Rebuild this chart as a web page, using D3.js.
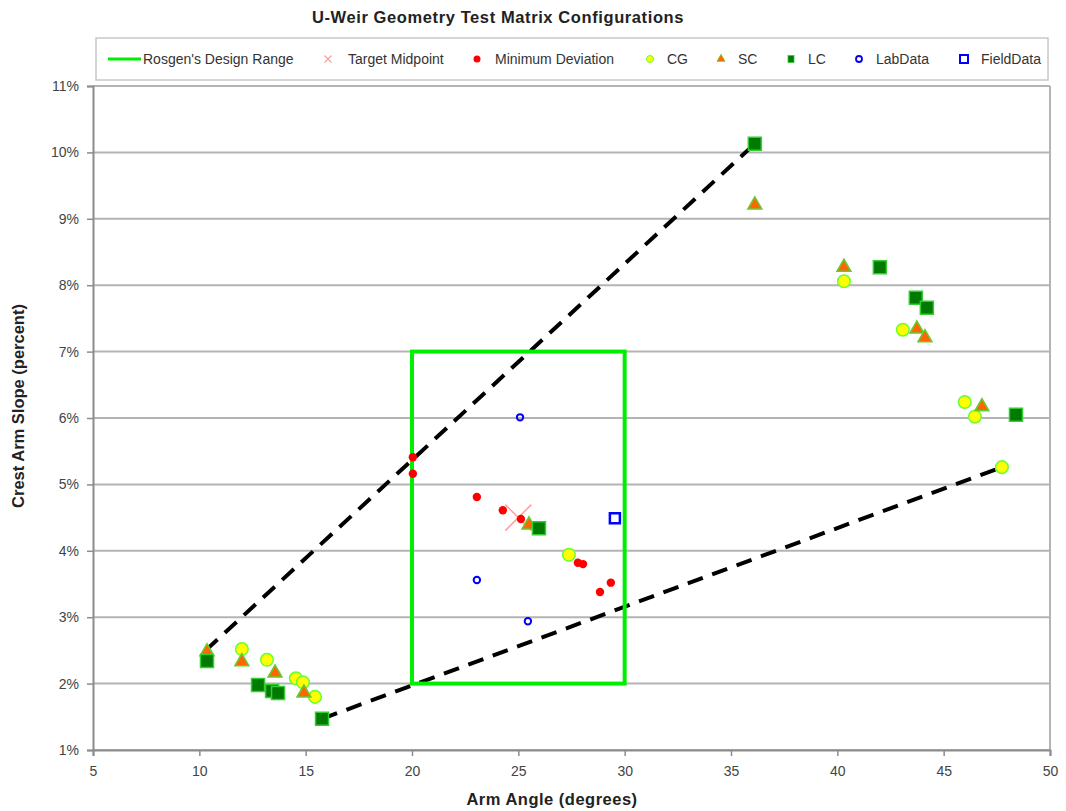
<!DOCTYPE html>
<html>
<head>
<meta charset="utf-8">
<script src="https://cdn.jsdelivr.net/npm/d3@7/dist/d3.min.js"></script>
<style>
  body { margin: 0; background: #fff; }
  text { font-family: "Liberation Sans", Arial, sans-serif; }
</style>
</head>
<body>
<svg id="chart" width="1066" height="811"></svg>
<script>
// ---- data (x = arm angle deg, y = crest arm slope %) ----
const rosgenX = [20, 30];
const rosgenY = [2, 7];
const targetMid = [[25, 4.5]];
const minDeviation = [[20.04, 5.41], [20.04, 5.16], [23.05, 4.81], [24.27, 4.61], [25.12, 4.48],
  [27.8, 3.82], [28.04, 3.80], [29.35, 3.52], [28.84, 3.38]];
const cgData = [[12.0, 2.52], [13.18, 2.36], [14.54, 2.08], [14.87, 2.02], [15.44, 1.80], [27.38, 3.94],
  [40.31, 8.06], [43.08, 7.33], [45.99, 6.24], [46.47, 6.02], [47.74, 5.26]];
const scData = [[10.36, 2.48], [12.0, 2.33], [13.56, 2.16], [14.92, 1.86], [25.5, 4.39], [36.12, 9.21],
  [40.31, 8.27], [43.74, 7.34], [44.12, 7.21], [46.8, 6.17]];
const lcData = [[10.36, 2.34], [12.76, 1.98], [13.42, 1.89], [13.7, 1.86], [15.77, 1.47], [25.97, 4.34],
  [36.12, 10.13], [42.0, 8.27], [43.69, 7.81], [44.21, 7.66], [48.4, 6.05]];
const labData = [[25.08, 6.01], [23.05, 3.56], [25.45, 2.94]];
const fieldData = [[29.54, 4.49]];
const upperBound = [[10.3, 2.5], [36.12, 10.13]];
const lowerBound = [[15.77, 1.47], [47.74, 5.26]];
const xTicks = [5, 10, 15, 20, 25, 30, 35, 40, 45, 50];
const yTicks = [1, 2, 3, 4, 5, 6, 7, 8, 9, 10, 11];
const legendNames = ["Rosgen's Design Range", "Target Midpoint", "Minimum Deviation", "CG", "SC", "LC", "LabData", "FieldData"];

const margin = {top: 86, right: 16, bottom: 61, left: 93},
  width = 1066 - margin.left - margin.right,
  height = 811 - margin.top - margin.bottom;

const svg = d3.select('#chart');
const g = svg.append('g').attr('transform', 'translate(' + margin.left + ',' + margin.top + ')');

let x = d3.scaleLinear().domain([5, 50]).range([0, width]);
let y = d3.scaleLinear().domain([1, 11]).range([height, 0]);

// title
svg.append('text')
  .attr('x', 498).attr('y', 23)
  .attr('text-anchor', 'middle')
  .style('font-size', '16.5px').style('font-weight', 'bold').style('fill', '#222')
  .style('letter-spacing', '0.6px')
  .text('U-Weir Geometry Test Matrix Configurations');

// gridlines
g.selectAll('.grid').data(yTicks).enter().append('line')
  .attr('class', 'grid')
  .attr('x1', 0).attr('x2', width)
  .attr('y1', d => y(d)).attr('y2', d => y(d))
  .style('stroke', '#b4b4b4').style('stroke-width', 2);

// plot border (right side)
g.append('line').attr('x1', width).attr('x2', width).attr('y1', 0).attr('y2', height)
  .style('stroke', '#b4b4b4').style('stroke-width', 2);

// axes
const yAxis = d3.axisLeft(y).tickValues(yTicks).tickSize(6).tickPadding(8).tickFormat(d => d + '%');
const xAxis = d3.axisBottom(x).tickValues(xTicks).tickSize(6).tickPadding(10).tickFormat(d3.format('d'));

const ya = g.append('g').call(yAxis);
const xa = g.append('g').attr('transform', 'translate(0,' + height + ')').call(xAxis);
[ya, xa].forEach(a => {
  a.select('.domain').style('stroke', '#8c8c8c').style('stroke-width', 2);
  a.selectAll('.tick line').style('stroke', '#8c8c8c').style('stroke-width', 1.5);
  a.selectAll('.tick text').style('font-size', '14px').style('fill', '#444')
    .style('font-family', '"Liberation Sans", Arial, sans-serif');
});

// axis titles
svg.append('text')
  .attr('transform', 'translate(24,' + 406 + ')rotate(-90)')
  .attr('text-anchor', 'middle')
  .style('font-size', '16.5px').style('font-weight', 'bold').style('fill', '#222')
  .text('Crest Arm Slope (percent)');
svg.append('text')
  .attr('x', 552).attr('y', 805)
  .attr('text-anchor', 'middle')
  .style('font-size', '16.5px').style('font-weight', 'bold').style('fill', '#222')
  .style('letter-spacing', '0.5px')
  .text('Arm Angle (degrees)');

// dashed bounding lines
const line = d3.line().x(d => x(d[0])).y(d => y(d[1]));
[upperBound, lowerBound].forEach(b => {
  g.append('path').datum(b).attr('d', line)
    .style('fill', 'none').style('stroke', '#000').style('stroke-width', 4)
    .style('stroke-dasharray', '16,10');
});

// Rosgen's design range
g.append('rect')
  .attr('x', x(rosgenX[0])).attr('y', y(rosgenY[1]))
  .attr('width', x(rosgenX[1]) - x(rosgenX[0]))
  .attr('height', y(rosgenY[0]) - y(rosgenY[1]))
  .style('fill', 'none').style('stroke', '#00ee00').style('stroke-width', 4);

// target midpoint
g.selectAll('.target').data(targetMid).enter().append('path')
  .attr('transform', d => 'translate(' + x(d[0]) + ',' + y(d[1]) + ')')
  .attr('d', 'M-13,-13L13,13M-13,13L13,-13')
  .style('stroke', '#ff9e9e').style('stroke-width', 1.5);

// minimum deviation
g.selectAll('.mindev').data(minDeviation).enter().append('circle')
  .attr('cx', d => x(d[0])).attr('cy', d => y(d[1])).attr('r', 4.2)
  .style('fill', '#ff0000');

// CG, SC, LC
const sym = (type, size) => d3.symbol().type(type).size(size)();
function markers(data, path, fill, stroke) {
  g.append('g').selectAll('path').data(data).enter().append('path')
    .attr('transform', d => 'translate(' + x(d[0]) + ',' + y(d[1]) + ')')
    .attr('d', path)
    .style('fill', fill).style('stroke', stroke).style('stroke-width', 1.5);
}
markers(cgData, sym(d3.symbolCircle, 125), '#ffff00', '#66ff33');
markers(scData, sym(d3.symbolTriangle, 85), '#ff6600', '#66cc33');
markers(lcData, 'M-6.5,-6.5H6.5V6.5H-6.5Z', '#007a00', '#33cc33');

// lab & field data
g.selectAll('.lab').data(labData).enter().append('circle')
  .attr('cx', d => x(d[0])).attr('cy', d => y(d[1])).attr('r', 3.2)
  .style('fill', 'none').style('stroke', '#0000ff').style('stroke-width', 2);
g.selectAll('.field').data(fieldData).enter().append('rect')
  .attr('x', d => x(d[0]) - 5).attr('y', d => y(d[1]) - 5)
  .attr('width', 10).attr('height', 10)
  .style('fill', 'none').style('stroke', '#0000ff').style('stroke-width', 2.5);

// legend
const legendPos = [108, 328, 477, 650, 721, 791, 859, 964];
const lg = svg.append('g');
lg.append('rect').attr('x', 96).attr('y', 38).attr('width', 952).attr('height', 42)
  .style('fill', '#fff').style('stroke', '#c8c8c8').style('stroke-width', 1.5);
const ly = 59;
legendNames.forEach((name, i) => {
  const cx = legendPos[i];
  let tx = cx + 17;
  if (i === 0) {
    lg.append('line').attr('x1', cx).attr('x2', cx + 33).attr('y1', ly).attr('y2', ly)
      .style('stroke', '#00ee00').style('stroke-width', 3);
    tx = cx + 35;
  } else if (i === 1) {
    lg.append('path').attr('transform', 'translate(' + cx + ',' + ly + ')')
      .attr('d', 'M-3.5,-3.5L3.5,3.5M-3.5,3.5L3.5,-3.5')
      .style('stroke', '#ff9e9e').style('stroke-width', 1.2);
    tx = cx + 20;
  } else if (i === 2) {
    lg.append('circle').attr('cx', cx).attr('cy', ly).attr('r', 3.5).style('fill', '#ff0000');
    tx = cx + 18;
  } else if (i === 3) {
    lg.append('circle').attr('cx', cx).attr('cy', ly).attr('r', 3.5)
      .style('fill', '#ffff00').style('stroke', '#66ff33');
  } else if (i === 4) {
    lg.append('path').attr('transform', 'translate(' + cx + ',' + ly + ')')
      .attr('d', sym(d3.symbolTriangle, 28)).style('fill', '#ff6600').style('stroke', '#66cc33').style('stroke-width', 0.8);
  } else if (i === 5) {
    lg.append('rect').attr('x', cx - 3).attr('y', ly - 3.5).attr('width', 6).attr('height', 7)
      .style('fill', '#007a00').style('stroke', '#33cc33').style('stroke-width', 0.8);
  } else if (i === 6) {
    lg.append('circle').attr('cx', cx).attr('cy', ly).attr('r', 3)
      .style('fill', 'none').style('stroke', '#0000ff').style('stroke-width', 1.8);
  } else {
    lg.append('rect').attr('x', cx - 4).attr('y', ly - 4).attr('width', 8).attr('height', 8)
      .style('fill', 'none').style('stroke', '#0000ff').style('stroke-width', 2);
  }
  lg.append('text').attr('x', tx).attr('y', ly + 5)
    .style('font-size', '14px').style('fill', '#333')
    .text(name);
});
</script>
</body>
</html>
